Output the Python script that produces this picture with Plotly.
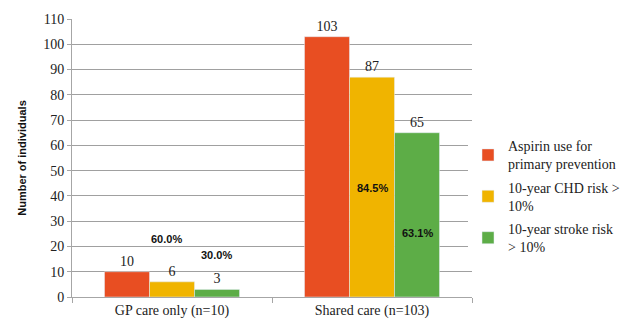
import plotly.graph_objects as go

categories = ["GP care only (n=10)", "Shared care (n=103)"]
series_names = ["Aspirin use for<br>primary prevention",
                "10-year CHD risk ><br>10%",
                "10-year stroke risk<br>> 10%"]
aspirin = [10, 103]
chd = [6, 87]
stroke = [3, 65]
colors = ["#E84E22", "#F0B400", "#5DAD47"]
pct_labels = ["60.0%", "30.0%", "84.5%", "63.1%"]
pct_x = [-0.03, 0.22, 0.0, 0.225]
pct_y = [23, 16.5, 43, 25.5]

fig = go.Figure()
for i, (name, vals, c) in enumerate(zip(series_names, [aspirin, chd, stroke], colors)):
    fig.add_trace(go.Bar(
        x=categories, y=vals, name=name, marker_color=c, legendgroup="g%d" % i,
        text=[str(v) for v in vals], textposition="outside",
        textfont=dict(family="Liberation Serif, serif", size=14, color="#222"),
        cliponaxis=False,
    ))

for lbl, px, py in zip(pct_labels, pct_x, pct_y):
    base = 0 if lbl in ("60.0%", "30.0%") else 1
    fig.add_annotation(x=base + px, y=py, xref="x", yref="y", text="<b>%s</b>" % lbl,
                       showarrow=False,
                       font=dict(family="Liberation Sans, Arial, sans-serif", size=11, color="#111"))

fig.update_layout(
    width=643, height=327,
    margin=dict(l=72, r=171, t=19, b=30, autoexpand=False),
    paper_bgcolor="white", plot_bgcolor="white",
    barmode="group", bargap=0.325, bargroupgap=0,
    showlegend=True,
    legend=dict(x=0.99, y=0.6, xanchor="left", yanchor="top",
                font=dict(family="Liberation Serif, serif", size=14, color="#222"),
                itemwidth=30, tracegroupgap=2),
    xaxis=dict(showline=True, linecolor="#A6A6A6", linewidth=1,
               ticks="outside", tickson="boundaries", tickcolor="#A6A6A6", ticklen=5,
               tickfont=dict(family="Liberation Serif, serif", size=14, color="#222"),
               range=[-0.5, 1.5]),
    yaxis=dict(range=[0, 110], dtick=10, showgrid=True, gridcolor="#A0A0A0", gridwidth=1,
               showline=True, linecolor="#A6A6A6", linewidth=1,
               ticks="outside", tickcolor="#A6A6A6", ticklen=4,
               tickfont=dict(family="Liberation Serif, serif", size=14, color="#222"),
               title=dict(text="<b>Number of individuals</b>", standoff=14,
                          font=dict(family="Liberation Sans, Arial, sans-serif", size=11, color="#111"))),
)

fig.write_html("out.html")
